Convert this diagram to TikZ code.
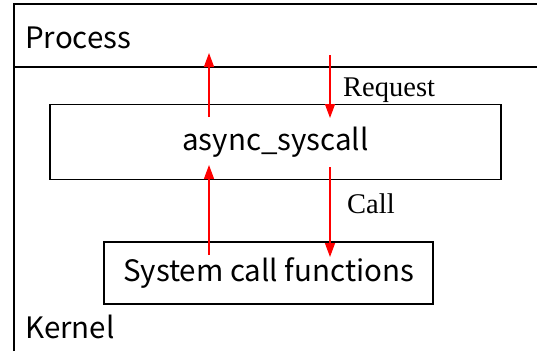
\documentclass[tikz,border=0pt]{standalone}
\usepackage{fontspec}
\setmainfont{Liberation Serif}
\newfontfamily\gothic{Noto Sans CJK JP}
\usetikzlibrary{arrows.meta,positioning}
\begin{document}
\begin{tikzpicture}[x=1pt,y=-1pt,
every node/.style={inner sep=0pt},
box/.style={draw,line width=1.2pt,rectangle,font=\gothic\fontsize{29.5}{32}\selectfont},
area/.style={anchor=base west,font=\gothic\fontsize{29.5}{32}\selectfont},
req/.style={red,line width=1.3pt,-{Triangle[length=14pt,width=10pt]}},
lbl/.style={anchor=base west,font=\fontsize{28.5}{31}\selectfont}]
\useasboundingbox (0,0) rectangle (537,351);
\draw[line width=1.2pt] (14,351)--(14,4)--(537,4);
\draw[line width=1.8pt] (14,67)--(537,67);
\node[area] (P) at (25,48) {Process};
\node[area] (K) at (25,338) {Kernel};
\node[box,minimum width=451pt,minimum height=75pt] (AS) at (275.5,142) {async\_syscall};
\node[box,minimum width=329pt,minimum height=62pt] (SC) at (268.5,273) {System call functions};
\coordinate (u1) at (209,255);
\coordinate (u2) at (209,165);
\coordinate (u3) at (209,117);
\coordinate (u4) at (209,53);
\coordinate (d1) at (330,55);
\coordinate (d2) at (330,118);
\coordinate (d3) at (330,167);
\coordinate (d4) at (330,257);
\draw[req] (u1)--(u2);
\draw[req] (u3)--(u4);
\draw[req] (d1)--(d2);
\draw[req] (d3)--(d4);
\node[lbl] (R) at (343,96) {Request};
\node[lbl] (C) at (347,213) {Call};
\end{tikzpicture}
\end{document}
